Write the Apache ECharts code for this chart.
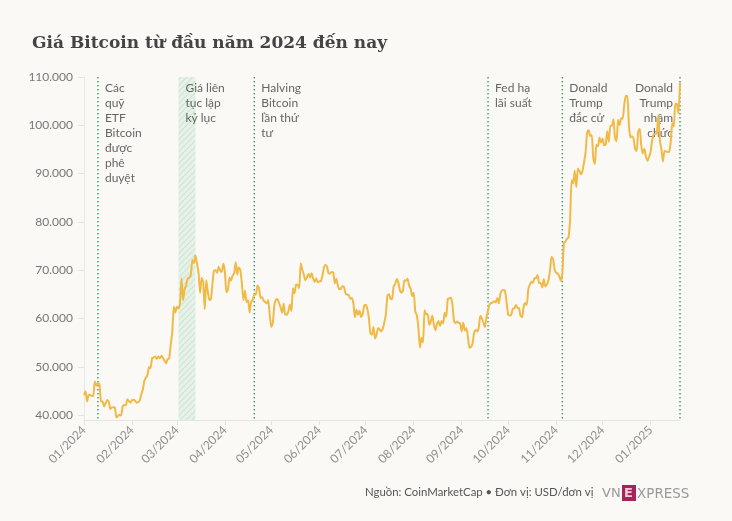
<!DOCTYPE html>
<html>
<head>
<meta charset="utf-8">
<script src="https://cdn.jsdelivr.net/npm/echarts@6/dist/echarts.min.js"></script>
<style>
html,body{margin:0;padding:0;background:#faf9f6;}
#chart{width:732px;height:521px;}
</style>
</head>
<body>
<div id="chart"></div>
<script>
// ---- DATA ----
const startDate = '2024-01-01';
const prices = [
// Jan 2024
44167,44958,42848,44180,44162,43989,43943,46970,46139,46627,46368,42853,42842,41796,42511,43154,42742,41262,41618,41665,41545,39507,39845,40077,39933,41816,42120,42035,43288,42952,42582,
// Feb
43075,43185,42992,42583,42658,43084,44318,45301,47147,47771,48293,49958,49742,51826,51938,52160,51663,52122,51779,52284,51839,51304,50731,51571,51733,54522,57085,62504,61198,
// Mar
62440,62029,63168,68330,63801,66106,66925,68300,68498,69020,72123,71482,73083,71397,69403,65316,68390,67548,61912,67913,65491,63779,64063,67234,69959,69987,69455,70744,69892,69645,71333,
// Apr
69702,65446,65980,68508,67837,68896,69362,71631,69139,70587,70060,67195,63821,65738,63426,63811,61276,63512,63843,64994,64927,66837,66407,64276,64481,63756,63419,63113,63841,60636,
// May
58254,59123,62889,63892,64031,63161,62335,61187,63049,60793,60793,61448,62901,61553,66267,65231,67051,66940,66279,71448,70136,69122,67929,68526,69265,68518,69394,68296,67578,68364,67491,
// Jun
67706,67751,68804,70567,71082,70757,69342,69305,69648,69540,67314,68263,66773,66043,66229,66677,66505,65175,64974,64870,64097,64256,63180,60278,61804,60812,61604,60320,60888,62678,
// Jul
62851,62029,60173,56977,56663,58231,55857,56714,58052,57725,57339,57889,59204,60797,64725,65043,64087,63987,66661,67139,68165,67533,65936,65372,65777,67912,67813,68255,66819,66201,64619,
// Aug
65357,61415,60680,58116,53991,56034,55027,61710,60880,60945,58719,59354,60609,58737,57560,58894,59478,58483,59493,59012,61175,60381,64094,64178,64333,62880,59504,59027,59388,59119,58969,
// Sep
57325,59112,57541,57971,56160,53949,54140,54841,57019,57648,57343,58127,60571,60005,59182,58192,60309,61649,62940,63193,63348,63578,63339,64262,63143,65181,65790,65888,65635,63329,
// Oct
60837,60632,60759,62067,62089,62818,62236,62131,60582,60275,62445,63193,62851,66046,67041,67612,67399,68418,68362,69001,67367,67362,66432,68161,66642,67014,67929,69907,72720,72339,70215,
// Nov
69482,69289,68741,67811,69359,75639,75904,76545,76778,80474,88701,87955,90584,87250,91066,90558,89845,90542,92343,94339,98504,98997,97777,98013,93102,91985,95962,95652,97461,96449,
// Dec
97279,95865,96002,98768,96593,99921,99923,101236,97433,96675,101173,100043,101459,101373,104298,106029,106140,100041,97490,97756,97225,95104,94686,98676,99299,95795,94164,95163,93530,92643,93429,
// Jan 2025
94419,96886,98107,98236,98315,102078,96923,95043,92484,94701,94566,94488,94516,96534,100504,99756,104462,104408,102500,108800
];
const monthTicks = ['2024-01-01','2024-02-01','2024-03-01','2024-04-01','2024-05-01','2024-06-01','2024-07-01','2024-08-01','2024-09-01','2024-10-01','2024-11-01','2024-12-01','2025-01-01'];
const yTicks = [40000,50000,60000,70000,80000,90000,100000,110000];
const eventDates = ['2024-01-10','2024-04-20','2024-09-18','2024-11-05','2025-01-20'];
const eventLabels = ['Các\nquỹ\nETF\nBitcoin\nđược\nphê\nduyệt','Halving\nBitcoin\nlần thứ\ntư','Fed hạ\nlãi suất','Donald\nTrump\nđắc cử','Donald\nTrump\nnhậm\nchức'];
const bandStart = '2024-03-02';
const bandEnd = '2024-03-13';
const bandLabel = 'Giá liên\ntục lập\nkỷ lục';
const titleText = 'Giá Bitcoin từ đầu năm 2024 đến nay';
const sourceText = 'Nguồn: CoinMarketCap • Đơn vị: USD/đơn vị';
const yMin = 39000, yMax = 110000;
const xMin = '2024-01-01', xMax = '2025-01-20';

// ---- build ----
const DAY = 86400000;
const ts = s => { const [y,m,d] = s.split('-').map(Number); return Date.UTC(y,m-1,d); };
const t0 = ts(startDate);
const seriesData = prices.map((v,i)=>[t0 + i*DAY, v]);

const fmtNum = v => String(v).replace(/\B(?=(\d{3})+(?!\d))/g,'.');

const pc = document.createElement('canvas');
pc.width = 6; pc.height = 6;
const g = pc.getContext('2d');
g.fillStyle = '#e6f2e7'; g.fillRect(0,0,6,6);
g.strokeStyle = '#cfe6d3'; g.lineWidth = 1.2;
g.beginPath(); g.moveTo(0,6); g.lineTo(6,0); g.moveTo(-3,3); g.lineTo(3,-3); g.moveTo(3,9); g.lineTo(9,3); g.stroke();

const FONT = 'Lato, "Noto Sans", sans-serif';
const chart = echarts.init(document.getElementById('chart'), null, {renderer:'canvas'});
chart.setOption({
  backgroundColor: '#faf9f6',
  animation: false,
  title: {
    text: titleText, left: 27, top: 30,
    textStyle: {fontFamily: '"DejaVu Serif", serif', fontWeight: 'bold', fontSize: 17, color: '#444'}
  },
  grid: {left: 84, right: 52, top: 77, bottom: 101, containLabel: false},
  xAxis: {
    type: 'value', min: ts(xMin), max: ts(xMax),
    axisLine: {show: true, lineStyle: {color: '#e4e4e2', width: 1}},
    axisTick: {show: true, length: 5, lineStyle: {color: '#e4e4e2'}, customValues: monthTicks.map(ts)},
    axisLabel: {
      customValues: monthTicks.map(ts), rotate: 45, margin: 8, color: '#8f8f8f', fontSize: 12, fontFamily: FONT,
      formatter: v => { const d = new Date(v); return String(d.getUTCMonth()+1).padStart(2,'0') + '/' + d.getUTCFullYear(); }
    },
    splitLine: {show: false}
  },
  yAxis: {
    type: 'value', min: yMin, max: yMax,
    axisLine: {show: true, lineStyle: {color: '#e8e8e6'}},
    axisTick: {show: true, length: 6, lineStyle: {color: '#e4e4e2'}, customValues: yTicks},
    axisLabel: {customValues: yTicks, color: '#777', fontSize: 12, fontFamily: FONT, margin: 11, formatter: v => fmtNum(v)},
    splitLine: {show: false}
  },
  series: [
    {
      type: 'custom', z: 1, silent: true,
      data: [[ts(bandStart), ts(bandEnd)]],
      encode: {x: [0,1]},
      renderItem: (params, api) => {
        const a = api.coord([api.value(0), yMax]);
        const b = api.coord([api.value(1), yMin]);
        return {type: 'group', children: [
          {type: 'rect', shape: {x: a[0], y: a[1], width: b[0]-a[0], height: b[1]-a[1]}, style: {fill: {image: pc, repeat: 'repeat'}}},
          {type: 'text', x: a[0] + 7, y: a[1] + 4, style: {text: bandLabel, fill: '#666', fontSize: 12, fontFamily: FONT, lineHeight: 15, align: 'left', verticalAlign: 'top'}}
        ]};
      }
    },
    {
      type: 'custom', z: 2, silent: true,
      data: eventDates.map((d,i)=>[ts(d), yMax, i]),
      encode: {x: 0, y: 1},
      renderItem: (params, api) => {
        const i = api.value(2);
        const a = api.coord([api.value(0), yMax]);
        const b = api.coord([api.value(0), yMin]);
        const right = i === eventDates.length - 1;
        return {type: 'group', children: [
          {type: 'line', shape: {x1: a[0], y1: a[1], x2: b[0], y2: b[1]}, style: {stroke: '#3d9a6e', lineWidth: 1.4, lineDash: [1.4, 2.6]}},
          {type: 'text', x: a[0] + (right ? -7 : 7), y: a[1] + 4, style: {text: eventLabels[i], fill: '#666', fontSize: 12, fontFamily: FONT, lineHeight: 15, align: right ? 'right' : 'left', verticalAlign: 'top'}}
        ]};
      }
    },
    {
      type: 'line', z: 3, data: seriesData, showSymbol: false, symbol: 'none',
      lineStyle: {color: '#f1b946', width: 2}, smooth: 0.2
    }
  ],
  graphic: [
    {type: 'text', left: 365, top: 487, style: {text: sourceText, fill: '#555', fontSize: 11.4, fontFamily: FONT}},
    {type: 'text', left: 602, top: 487, style: {text: 'VN', fill: '#999', fontSize: 13, fontFamily: '"DejaVu Sans", sans-serif'}},
    {type: 'rect', shape: {x: 622, y: 485, width: 14, height: 16}, style: {fill: '#a5245a'}},
    {type: 'text', left: 624, top: 487, style: {text: 'E', fill: '#f2c9da', fontSize: 13, fontWeight: 'bold', fontFamily: '"DejaVu Sans", sans-serif'}},
    {type: 'text', left: 637, top: 487, style: {text: 'XPRESS', fill: '#999', fontSize: 13.5, fontFamily: '"DejaVu Sans", sans-serif'}}
  ]
});
</script>
</body>
</html>
